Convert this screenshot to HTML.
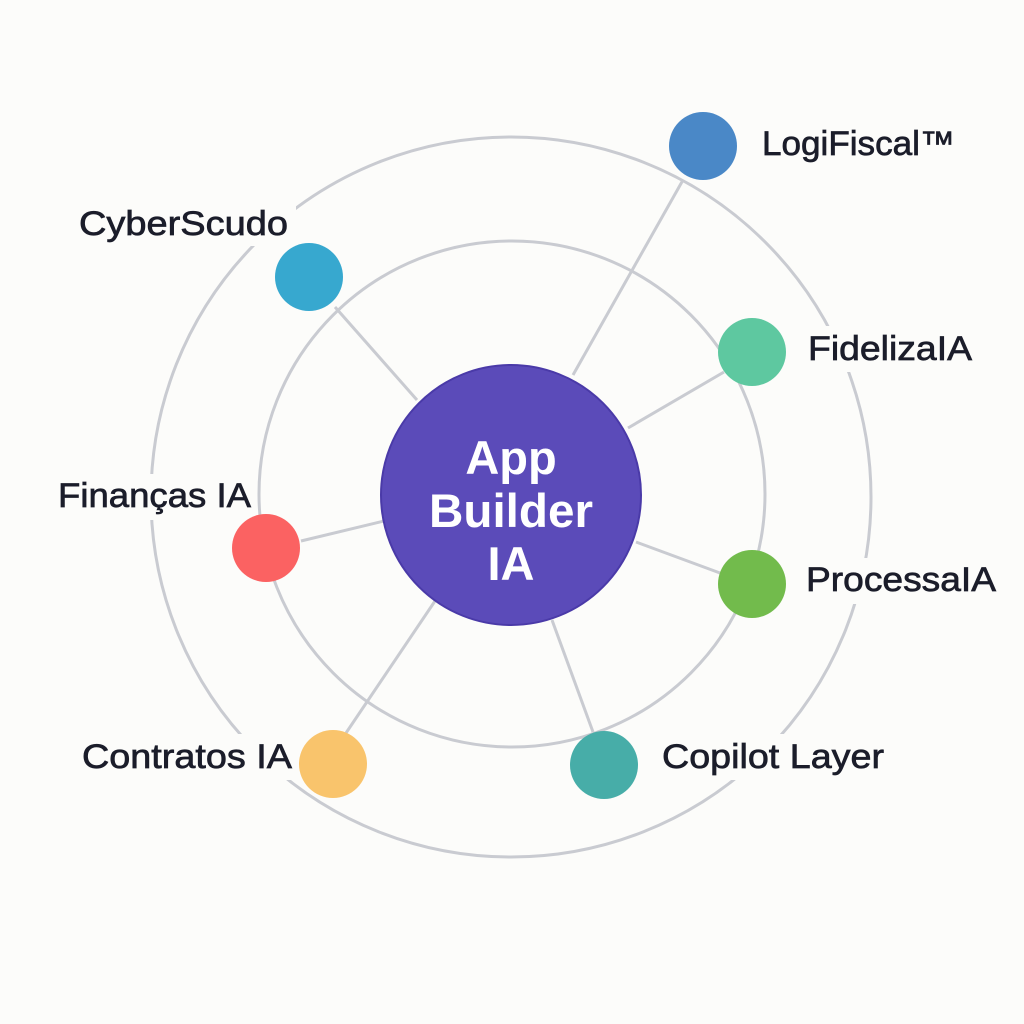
<!DOCTYPE html>
<html><head><meta charset="utf-8"><style>
html,body{margin:0;padding:0;background:#fcfcfa;}
svg{display:block}
.l{font-family:"Liberation Sans",sans-serif;font-size:34px;fill:#1b1d2a;stroke:#1b1d2a;stroke-width:0.7;}
.c{font-family:"Liberation Sans",sans-serif;font-size:47px;fill:#fff;font-weight:bold;}
</style></head><body>
<svg width="1024" height="1024" viewBox="0 0 1024 1024">
<rect width="1024" height="1024" fill="#fcfcfa"/>
<g fill="none" stroke="#c9cbd1" stroke-width="3">
<circle cx="511" cy="497" r="360"/>
<circle cx="512" cy="494" r="253"/>
<line x1="573" y1="375" x2="683" y2="180"/>
<line x1="417" y1="400" x2="335" y2="307"/>
<line x1="628" y1="428" x2="724" y2="372"/>
<line x1="384" y1="521" x2="301" y2="541"/>
<line x1="636" y1="542" x2="720" y2="573"/>
<line x1="435" y1="601" x2="346" y2="733"/>
<line x1="552" y1="620" x2="593" y2="732"/>
</g>
<g fill="#fcfcfa">
<rect x="74" y="200" width="222" height="46"/>
<rect x="54" y="474" width="202" height="46"/>
<rect x="802" y="326" width="180" height="46"/>
<rect x="800" y="558" width="200" height="46"/>
<rect x="78" y="734" width="218" height="46"/>
<rect x="656" y="734" width="234" height="46"/>
</g>
<circle cx="511" cy="495" r="130" fill="#5b4bb9" stroke="#4a3aa8" stroke-width="2"/>
<text class="c" x="511" y="474" text-anchor="middle">App</text>
<text class="c" x="511" y="527" text-anchor="middle" textLength="164" lengthAdjust="spacingAndGlyphs">Builder</text>
<text class="c" x="511" y="580" text-anchor="middle">IA</text>
<circle cx="703" cy="146" r="34" fill="#4a88c7"/>
<circle cx="309" cy="277" r="34" fill="#37a8cf"/>
<circle cx="752" cy="352" r="34" fill="#5ec8a0"/>
<circle cx="266" cy="548" r="34" fill="#fb6262"/>
<circle cx="752" cy="584" r="34" fill="#72bb4c"/>
<circle cx="333" cy="764" r="34" fill="#f9c46c"/>
<circle cx="604" cy="765" r="34" fill="#47ada8"/>
<text class="l" x="762" y="155" textLength="193" lengthAdjust="spacingAndGlyphs">LogiFiscal™</text>
<text class="l" x="79" y="235" textLength="209" lengthAdjust="spacingAndGlyphs">CyberScudo</text>
<text class="l" x="808" y="360" textLength="164" lengthAdjust="spacingAndGlyphs">FidelizaIA</text>
<text class="l" x="58" y="507" textLength="193" lengthAdjust="spacingAndGlyphs">Finanças IA</text>
<text class="l" x="806" y="591" textLength="190" lengthAdjust="spacingAndGlyphs">ProcessaIA</text>
<text class="l" x="82" y="768" textLength="210" lengthAdjust="spacingAndGlyphs">Contratos IA</text>
<text class="l" x="662" y="768" textLength="222" lengthAdjust="spacingAndGlyphs">Copilot Layer</text>
</svg>
</body></html>
